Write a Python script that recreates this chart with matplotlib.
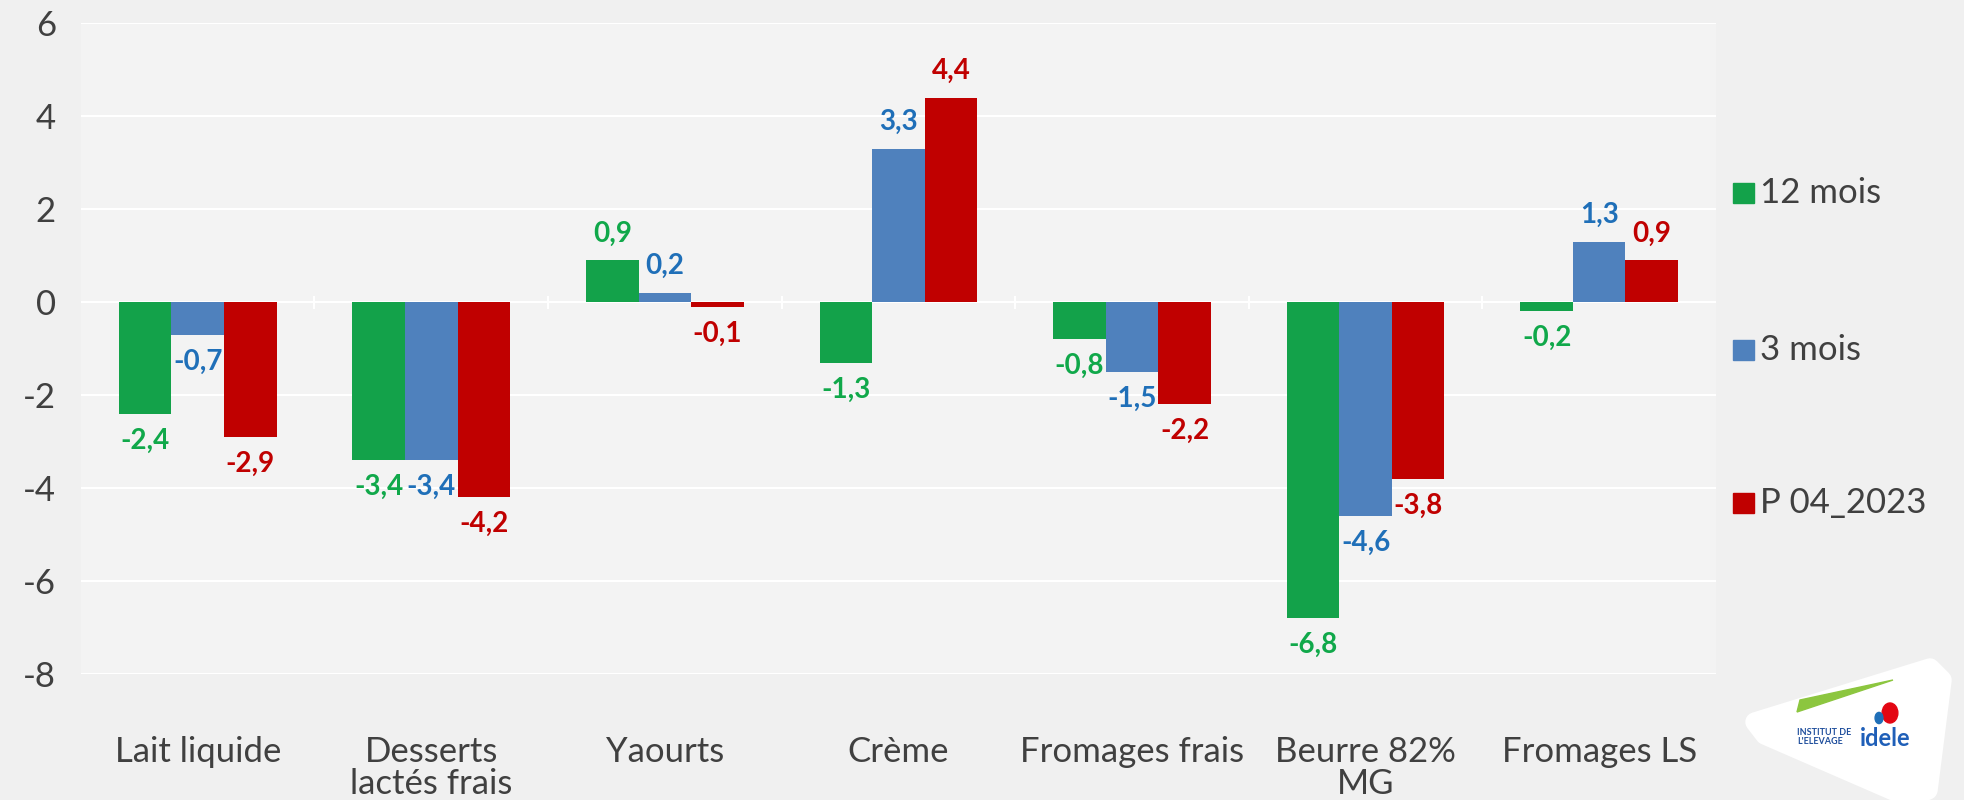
import matplotlib.pyplot as plt
import matplotlib.patches as mpatches
import numpy as np

categories = ["Lait liquide", "Desserts\nlactés frais", "Yaourts", "Crème",
              "Fromages frais", "Beurre 82%\nMG", "Fromages LS"]
series_names = ["12 mois", "3 mois", "P 04_2023"]
v_12mois = [-2.4, -3.4, 0.9, -1.3, -0.8, -6.8, -0.2]
v_3mois = [-0.7, -3.4, 0.2, 3.3, -1.5, -4.6, 1.3]
v_p0423 = [-2.9, -4.2, -0.1, 4.4, -2.2, -3.8, 0.9]
yticks = [6, 4, 2, 0, -2, -4, -6, -8]

bar_colors = ["#13a24a", "#4f81bd", "#c00000"]
label_colors = ["#10a84a", "#1f6fb8", "#c00000"]
bg = "#f0f0f0"

plt.rcParams['font.family'] = ['Lato', 'DejaVu Sans']

fig = plt.figure(figsize=(19.64, 8), dpi=100, facecolor=bg)
ax = fig.add_axes([0.0412, 0.1575, 0.8325, 0.8135])
ax.set_facecolor("#f3f3f3")

x = np.arange(len(categories))
w = 0.225
all_series = [v_12mois, v_3mois, v_p0423]
for i, vals in enumerate(all_series):
    pos = x + (i - 1) * w
    ax.bar(pos, vals, width=w, color=bar_colors[i], label=series_names[i], zorder=3)
    for px, v in zip(pos, vals):
        txt = f"{v:.1f}".replace(".", ",")
        off = 10 if v >= 0 else -10
        ax.annotate(txt, (px, v), xytext=(0, off), textcoords="offset points",
                    ha="center", va="bottom" if v >= 0 else "top",
                    fontsize=20, fontweight="bold", color=label_colors[i], zorder=4)

ax.set_xlim(-0.5, len(categories) - 0.5)
ax.set_ylim(-8, 6)
ax.set_yticks(yticks)
ax.set_yticklabels([str(t) for t in yticks])
ax.grid(axis="y", color="white", linewidth=1.5, zorder=0)
ax.axhline(0, color="white", linewidth=1.5, zorder=1)
for b in np.arange(0.5, len(categories) - 0.5, 1):
    ax.plot([b, b], [-0.12, 0.12], color="white", linewidth=1.5, zorder=1)

ax.set_xticks(x)
ax.set_xticklabels(categories, fontsize=25, color="#404040", linespacing=1.0)
ax.tick_params(axis="x", length=0, pad=45)
ax.tick_params(axis="y", length=0, pad=18, labelsize=25, labelcolor="#404040")
for s in ax.spines.values():
    s.set_visible(False)

# legend (drawn manually to match spacing)
leg_y = [193, 350, 503]
for name, col, yy in zip(series_names, bar_colors, leg_y):
    fy = 1 - yy / 800
    fig.patches.append(mpatches.Rectangle((1733 / 1964, fy - 0.013), 0.0105, 0.026,
                                          transform=fig.transFigure, color=col))
    fig.text(1760 / 1964, fy, name, fontsize=25, color="#404040", va="center")

# logo approximation
def fp(px, py):
    return (px / 1964, 1 - py / 800)

logo = mpatches.Polygon([fp(1755, 722), fp(1930, 668), fp(1942, 680),
                         fp(1928, 790), fp(1910, 798), fp(1765, 735)],
                        closed=True, transform=fig.transFigure, facecolor="white",
                        edgecolor="white", linewidth=14, joinstyle="round", zorder=5)
fig.patches.append(logo)
fig.patches.append(mpatches.Polygon([fp(1797, 712), fp(1893, 680), fp(1800, 700)],
                                    closed=True, transform=fig.transFigure,
                                    color="#8cc63f", zorder=6))
fig.patches.append(mpatches.Ellipse(fp(1890, 713), 0.008, 0.025,
                                    transform=fig.transFigure, color="#e30613", zorder=6))
fig.patches.append(mpatches.Ellipse(fp(1879, 718), 0.004, 0.014,
                                    transform=fig.transFigure, color="#1f6fb8", zorder=6))
fig.text(*fp(1797, 737), "INSTITUT DE\nL'ELEVAGE", fontsize=6.5,
         fontweight="bold", color="#1f4e9c", va="center", linespacing=1.0, zorder=7)
fig.text(*fp(1860, 739), "idele", fontsize=17, fontweight="bold",
         color="#1f5fb8", va="center", zorder=7)

fig.savefig("out.png", dpi=100, facecolor=bg)
